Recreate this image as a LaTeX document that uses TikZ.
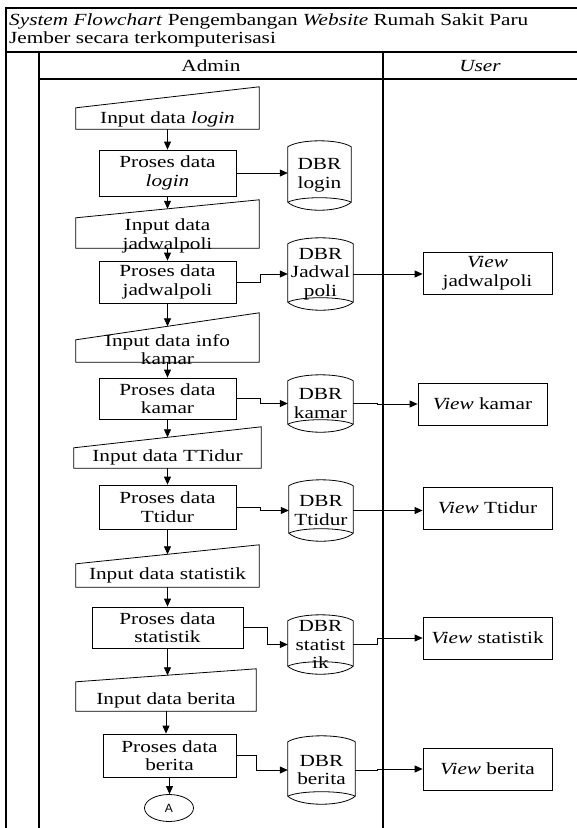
\documentclass[tikz,border=0pt]{standalone}
\usepackage{fontspec}
\setmainfont{Liberation Serif}[FakeStretch=1.25]
\newfontfamily\connfont{Liberation Sans}
\usetikzlibrary{arrows.meta,calc,shapes.geometric}

\tikzset{
  base/.style={font=\fontsize{17}{18.5}\selectfont, align=center, inner sep=0pt},
  procbox/.style={base, draw, rectangle, line width=0.8pt},
  viewbox/.style={base, draw, rectangle, line width=0.8pt},
  inshape/.style={base, rectangle},
  dbrbox/.style={base, rectangle},
  intext/.style={base},
  conn/.style={line width=0.8pt, -{Triangle[length=8pt,width=7pt]}},
  framel/.style={line width=1.2pt},
  hdr/.style={font=\fontsize{17}{18.5}\selectfont, inner sep=0pt},
  offpage/.style={draw, ellipse, line width=0.8pt, inner sep=0pt, font=\connfont\fontsize{12}{14}\selectfont},
}

% manual input outline: #1 node name, #2 drop of the upper left corner (pt)
\newcommand\manualinput[2]{%
  \draw[line width=0.8pt] (#1.south west) -- (#1.south east) -- (#1.north east)
    -- ([yshift=-#2pt]#1.north west) -- cycle;
  \coordinate (#1-top) at ($([yshift=-#2pt]#1.north west)!0.5!(#1.north east)$);
}
% stored data outline (curved top, lens-shaped bottom)
\newcommand\dbrshape[1]{%
  \draw[line width=0.8pt]
    ([yshift=-6pt]#1.north west)
      .. controls ([xshift=12pt,yshift=2pt]#1.north west) and ([xshift=-12pt,yshift=2pt]#1.north east)
      .. ([yshift=-6pt]#1.north east)
    -- ([yshift=8pt]#1.south east)
      .. controls ([xshift=-12pt,yshift=-2.7pt]#1.south east) and ([xshift=12pt,yshift=-2.7pt]#1.south west)
      .. ([yshift=8pt]#1.south west)
    -- cycle;
  \draw[line width=0.8pt]
    ([yshift=8pt]#1.south west)
      .. controls ([xshift=12pt,yshift=14pt]#1.south west) and ([xshift=-12pt,yshift=14pt]#1.south east)
      .. ([yshift=8pt]#1.south east);
}

\begin{document}
\begin{tikzpicture}[x=1pt,y=-1pt]
\useasboundingbox (0,0) rectangle (577,828);

% swimlane frame
\draw[framel] (6,828) -- (6,8) -- (577,8);
\draw[framel] (6,52) -- (577,52);
\draw[framel] (39,52) -- (39,828);
\draw[framel] (39,79) -- (577,79);
\draw[framel] (383,52) -- (383,828);

\node[hdr, align=left, anchor=west] (title) at (9,30.5)
  {\textit{System Flowchart} Pengembangan \textit{Website} Rumah Sakit Paru\\Jember secara terkomputerisasi};
\node[hdr] (admin) at (211,66) {Admin};
\node[hdr] (user) at (480,66) {\textit{User}};

% ---- login
\node[inshape, minimum width=183pt, minimum height=42pt,
  label={[intext,yshift=-11pt]center:Input data \textit{login}}] (in1) at (167.5,108) {};
\manualinput{in1}{21}
\node[procbox, minimum width=137pt, minimum height=46pt] (p1) at (167.5,173) {Proses data\\\textit{login}};
\node[dbrbox, minimum width=63pt, minimum height=69pt] (d1) at (319.5,175.5) {DBR\\login};
\dbrshape{d1}

% ---- jadwalpoli
\node[inshape, minimum width=183pt, minimum height=48pt,
  label={[intext,yshift=-12pt]center:{Input data\\jadwalpoli}}] (in2) at (167.5,224) {};
\manualinput{in2}{18}
\node[procbox, minimum width=137pt, minimum height=42pt] (p2) at (167.5,282) {Proses data\\jadwalpoli};
\node[dbrbox, minimum width=65pt, minimum height=72pt] (d2) at (320.5,274) {DBR\\Jadwal\\poli};
\dbrshape{d2}
\node[viewbox, minimum width=129pt, minimum height=42pt] (v2) at (487.5,273) {\textit{View}\\jadwalpoli};

% ---- kamar
\node[inshape, minimum width=183pt, minimum height=49pt,
  label={[intext,yshift=-12pt]center:{Input data info\\kamar}}] (in3) at (167.5,337.5) {};
\manualinput{in3}{27}
\node[procbox, minimum width=137pt, minimum height=41pt] (p3) at (167.5,398.5) {Proses data\\kamar};
\node[dbrbox, minimum width=65pt, minimum height=57pt] (d3) at (320.5,403.5) {DBR\\kamar};
\dbrshape{d3}
\node[viewbox, minimum width=129pt, minimum height=42pt] (v3) at (482.5,404) {\textit{View} kamar};

% ---- Ttidur
\node[inshape, minimum width=187pt, minimum height=41pt,
  label={[intext,yshift=-10pt]center:Input data TTidur}] (in4) at (167.5,447.5) {};
\manualinput{in4}{21}
\node[procbox, minimum width=137pt, minimum height=44pt] (p4) at (167.5,507) {Proses data\\Ttidur};
\node[dbrbox, minimum width=64pt, minimum height=61pt] (d4) at (321,510.5) {DBR\\Ttidur};
\dbrshape{d4}
\node[viewbox, minimum width=129pt, minimum height=42pt] (v4) at (487.5,508) {\textit{View} Ttidur};

% ---- statistik
\node[inshape, minimum width=183pt, minimum height=42pt,
  label={[intext,yshift=-9.5pt]center:Input data statistik}] (in5) at (167.5,566) {};
\manualinput{in5}{19}
\node[procbox, minimum width=151pt, minimum height=41pt] (p5) at (167.5,627.5) {Proses data\\statistik};
\node[dbrbox, minimum width=65pt, minimum height=59pt] (d5) at (320.5,644.5) {DBR\\statist\\ik};
\dbrshape{d5}
\node[viewbox, minimum width=129pt, minimum height=42pt] (v5) at (487.5,638) {\textit{View} statistik};

% ---- berita
\node[inshape, minimum width=180pt, minimum height=42pt,
  label={[intext,yshift=-10pt]center:Input data berita}] (in6) at (166,690) {};
\manualinput{in6}{13}
\node[procbox, minimum width=133pt, minimum height=43pt] (p6) at (169.5,755.5) {Proses data\\berita};
\node[dbrbox, minimum width=67pt, minimum height=68pt] (d6) at (321.5,770) {DBR\\berita};
\dbrshape{d6}
\node[viewbox, minimum width=129pt, minimum height=42pt] (v6) at (487.5,769) {\textit{View} berita};

\node[offpage, minimum width=49pt, minimum height=27pt] (A) at (169,808) {A};

% ---- connectors
\draw[conn] (in1.south) -- (p1.north);
\draw[conn] (p1.east) -- (p1.east -| d1.west);
\draw[conn] (p1.south) -- (in2-top);
\draw[conn] (in2.south) -- (p2.north);
\draw[conn] (p2.east) -- ++(24pt,0pt) |- (d2.west);
\draw[conn] (d2.east) -- (d2.east -| v2.west);
\draw[conn] (p2.south) -- (in3-top);
\draw[conn] (in3.south) -- (p3.north);
\draw[conn] (p3.east) -- ++(24pt,0pt) |- (d3.west);
\draw[conn] (d3.east) -- ++(24pt,0pt) |- (v3.west);
\draw[conn] (p3.south) -- (in4-top);
\draw[conn] (in4.south) -- (p4.north);
\draw[conn] (p4.east) -- ++(24pt,0pt) |- (d4.west);
\draw[conn] (d4.east) -- (d4.east -| v4.west);
\draw[conn] (p4.south) -- (in5-top);
\draw[conn] (in5.south) -- (p5.north);
\draw[conn] (p5.east) -- ++(24pt,0pt) |- (d5.west);
\draw[conn] (d5.east) -- ++(24pt,0pt) |- (v5.west);
\draw[conn] (p5.south) -- (p5.south |- in6-top);
\draw[conn] (in6.south) -- (in6.south |- p6.north);
\draw[conn] (p6.east) -- ++(20pt,0pt) |- (d6.west);
\draw[conn] (d6.east) -- ++(22pt,0pt) |- (v6.west);
\draw[conn] (p6.south) -- (p6.south |- A.north);
\end{tikzpicture}
\end{document}
